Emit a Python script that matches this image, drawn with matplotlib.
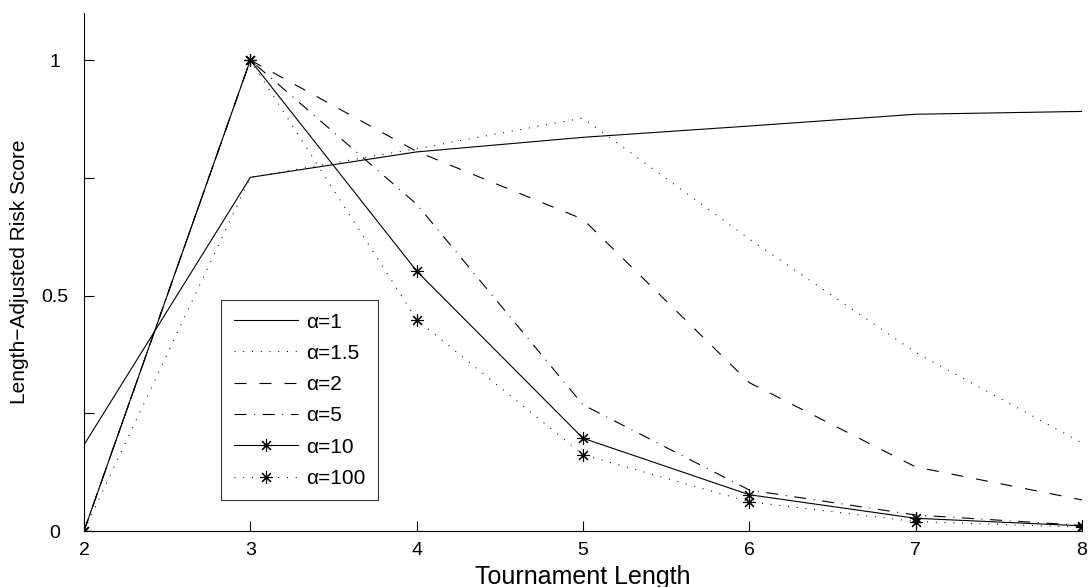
import matplotlib
matplotlib.use("Agg")
import matplotlib.pyplot as plt

plt.rcParams['font.family'] = ['Liberation Sans', 'DejaVu Sans']
plt.rcParams['lines.scale_dashes'] = False

x = [2, 3, 4, 5, 6, 7, 8]
labels = ['α=1', 'α=1.5', 'α=2', 'α=5', 'α=10', 'α=100']
a1 = [0.183, 0.751, 0.805, 0.836, 0.860, 0.885, 0.891]
a1_5 = [0.0, 0.751, 0.812, 0.877, 0.620, 0.379, 0.187]
a2 = [0.0, 1.0, 0.806, 0.662, 0.315, 0.136, 0.066]
a5 = [0.0, 1.0, 0.694, 0.268, 0.087, 0.034, 0.012]
a10 = [0.0, 1.0, 0.552, 0.197, 0.077, 0.027, 0.011]
a100 = [0.0, 1.0, 0.449, 0.162, 0.062, 0.020, 0.008]

fig = plt.figure(figsize=(10.88, 5.87), dpi=100)
ax = fig.add_axes([84/1088, 1-531/587, 998/1088, 518/587])

lw = 0.8
dot = (0, (0.7, 5.6))
dash = (0, (8.6, 9.4))
dashdot = (0, (8.6, 5.5, 0.7, 5.5))
ast = (8, 2, 0)

ax.plot(x, a1, color='black', lw=lw, linestyle='-', label=labels[0])
ax.plot(x, a1_5, color='black', lw=lw, linestyle=dot, label=labels[1])
ax.plot(x, a2, color='black', lw=lw, linestyle=dash, label=labels[2])
ax.plot(x, a5, color='black', lw=lw, linestyle=dashdot, label=labels[3])
ax.plot(x, a10, color='black', lw=lw, linestyle='-', marker=ast, ms=9, mew=0.8, label=labels[4])
ax.plot(x, a100, color='black', lw=lw, linestyle=dot, marker=ast, ms=9, mew=0.8, label=labels[5])

ax.set_xlim(2, 8)
ax.set_ylim(0, 1.1)
ax.set_xticks([2, 3, 4, 5, 6, 7, 8])
ax.set_yticks([0, 0.25, 0.5, 0.75, 1])
ax.set_yticklabels(['0', '', '0.5', '', '1'])
ax.spines['top'].set_visible(False)
ax.spines['right'].set_visible(False)
for s in ['left', 'bottom']:
    ax.spines[s].set_linewidth(0.8)
ax.tick_params(direction='in', length=7, width=0.8, labelsize=14)
ax.tick_params(axis='y', pad=21)
ax.tick_params(axis='x', pad=8)
for t in ax.get_yticklabels():
    t.set_ha('center')

ax.set_xlabel('Tournament Length', fontsize=18, labelpad=4)
ax.set_ylabel('Length−Adjusted Risk Score', fontsize=15, labelpad=9)

leg = ax.legend(loc='upper left', bbox_to_anchor=((221-84)/998, (531-300)/518),
                borderaxespad=0, fontsize=15, frameon=True, fancybox=False,
                handlelength=3.1, handletextpad=0.4, labelspacing=0.59,
                borderpad=0.6)
leg.get_frame().set_edgecolor('black')
leg.get_frame().set_linewidth(0.8)

fig.savefig('out.png', dpi=100)
